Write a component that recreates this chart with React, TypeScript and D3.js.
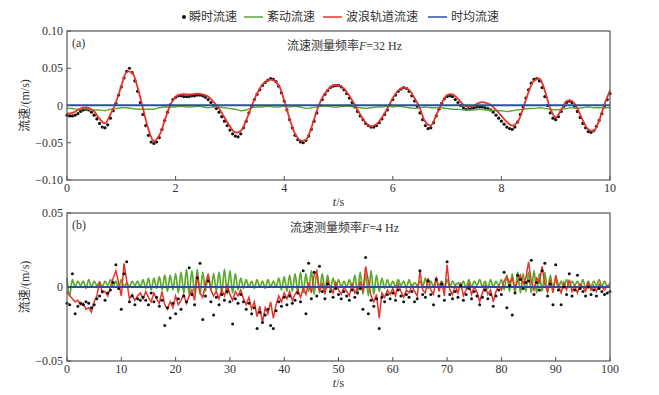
import * as d3 from "d3";

// ---- panel (a): F = 32 Hz, 0–10 s ----
const waveA = [
  -0.011, -0.010, -0.006, -0.003, -0.003, -0.008, -0.018, -0.024, -0.012, 0.004,
  0.026, 0.045, 0.044, 0.024, -0.004, -0.032, -0.048, -0.040, -0.020, 0.000,
  0.012, 0.015, 0.015, 0.015, 0.016, 0.015, 0.012, 0.005, -0.004, -0.016,
  -0.028, -0.036, -0.034, -0.020, -0.001, 0.016, 0.028, 0.034, 0.034, 0.027,
  0.007, -0.018, -0.038, -0.047, -0.046, -0.030, -0.007, 0.010, 0.021, 0.027,
  0.027, 0.023, 0.013, 0.001, -0.012, -0.023, -0.028, -0.025, -0.016, -0.004,
  0.010, 0.020, 0.024, 0.021, 0.010, -0.004, -0.022, -0.027, -0.013, 0.003,
  0.014, 0.015, 0.009, 0.001, -0.002, 0.000, 0.004, 0.004, 0.001, -0.006,
  -0.014, -0.022, -0.027, -0.022, -0.004, 0.018, 0.033, 0.036, 0.020, -0.004,
  -0.016, -0.006, 0.006, 0.006, -0.004, -0.020, -0.032, -0.034, -0.020, 0.002,
  0.020,
];

const turbA = [
  -0.004, -0.004, -0.005, -0.004, -0.005, -0.006, -0.006, -0.007, -0.005, -0.004,
  -0.003, -0.003, -0.004, -0.005, -0.005, -0.005, -0.005, -0.003, -0.002, -0.002,
  -0.002, -0.001, -0.002, -0.002, -0.001, -0.002, -0.003, -0.002, -0.002, -0.003,
  -0.004, -0.005, -0.007, -0.006, -0.003, -0.002, -0.002, -0.001, -0.002, -0.002,
  -0.001, -0.002, -0.001, -0.002, -0.004, -0.003, -0.002, -0.001, -0.001, -0.002,
  -0.002, -0.001, -0.001, -0.002, -0.003, -0.004, -0.003, -0.002, -0.002, -0.001,
  -0.002, -0.001, -0.002, -0.003, -0.004, -0.003, -0.002, -0.003, -0.003, -0.003,
  -0.004, -0.005, -0.005, -0.006, -0.006, -0.006, -0.005, -0.006, -0.006, -0.007,
  -0.007, -0.008, -0.007, -0.006, -0.005, -0.004, -0.004, -0.003, -0.004, -0.005,
  -0.006, -0.005, -0.004, -0.003, -0.004, -0.003, -0.002, -0.003, -0.003, -0.003,
  -0.003,
];

const instA = [
  -0.013, -0.014, -0.014, -0.013, -0.011, -0.008, -0.006, -0.005, -0.006, -0.009,
  -0.013, -0.018, -0.024, -0.029, -0.030, -0.026, -0.017, -0.007, 0.003, 0.014,
  0.025, 0.037, 0.046, 0.050, 0.044, 0.033, 0.019, 0.004, -0.012, -0.027,
  -0.040, -0.049, -0.051, -0.049, -0.043, -0.032, -0.020, -0.009, 0.001, 0.008,
  0.011, 0.013, 0.013, 0.012, 0.012, 0.012, 0.013, 0.013, 0.014, 0.014,
  0.013, 0.011, 0.008, 0.004, 0.000, -0.004, -0.009, -0.015, -0.021, -0.027,
  -0.033, -0.038, -0.041, -0.042, -0.038, -0.030, -0.021, -0.010, -0.001, 0.008,
  0.015, 0.021, 0.027, 0.031, 0.034, 0.036, 0.035, 0.032, 0.026, 0.017,
  0.006, -0.006, -0.019, -0.030, -0.040, -0.046, -0.049, -0.050, -0.047, -0.041,
  -0.032, -0.021, -0.010, 0.000, 0.008, 0.015, 0.020, 0.024, 0.026, 0.027,
  0.027, 0.025, 0.021, 0.016, 0.010, 0.004, -0.002, -0.008, -0.014, -0.019,
  -0.024, -0.027, -0.029, -0.029, -0.027, -0.023, -0.018, -0.012, -0.006, 0.001,
  0.008, 0.014, 0.019, 0.022, 0.024, 0.023, 0.019, 0.013, 0.006, -0.002,
  -0.010, -0.019, -0.027, -0.031, -0.030, -0.023, -0.014, -0.005, 0.003, 0.009,
  0.012, 0.013, 0.012, 0.008, 0.004, 0.000, -0.003, -0.005, -0.005, -0.004,
  -0.003, -0.002, -0.002, -0.002, -0.003, -0.004, -0.006, -0.009, -0.013, -0.017,
  -0.021, -0.025, -0.029, -0.031, -0.032, -0.029, -0.022, -0.012, -0.002, 0.010,
  0.021, 0.030, 0.035, 0.036, 0.033, 0.024, 0.012, 0.000, -0.010, -0.017,
  -0.019, -0.015, -0.008, -0.001, 0.004, 0.006, 0.004, -0.001, -0.008, -0.016,
  -0.024, -0.030, -0.035, -0.036, -0.034, -0.028, -0.020, -0.011, -0.002, 0.008,
  0.016,
];

// ---- panel (b): F = 4 Hz, 0–100 s ----
const waveB = [
  -0.003, -0.006, -0.008, -0.010, -0.009, -0.012, -0.011, -0.015, -0.014, -0.017,
  -0.010, -0.006, 0.004, -0.004, -0.003, -0.006, 0.000, 0.006, 0.011, 0.003,
  -0.006, 0.016, 0.004, -0.008, -0.005, -0.009, -0.006, -0.004, -0.008, -0.003,
  -0.007, -0.010, -0.004, -0.008, -0.011, -0.003, -0.012, -0.015, -0.010, -0.014,
  -0.006, -0.012, -0.009, -0.005, -0.011, -0.006, -0.002, -0.009, 0.008, -0.004,
  -0.007, 0.002, 0.009, -0.002, -0.006, -0.003, -0.008, -0.002, -0.006, 0.001,
  -0.005, -0.009, -0.003, -0.006, -0.002, -0.008, -0.012, -0.007, -0.015, -0.010,
  -0.020, -0.013, -0.024, -0.014, -0.018, -0.010, -0.021, -0.012, -0.006, -0.010,
  -0.004, -0.008, -0.003, -0.009, -0.005, -0.002, -0.007, -0.001, -0.005, 0.003,
  -0.004, 0.008, 0.011, -0.003, 0.002, -0.005, 0.004, 0.000, -0.004, 0.003,
  -0.002, -0.005, 0.000, -0.003, -0.006, 0.002, -0.004, -0.001, 0.003, -0.003,
  0.014, 0.004, -0.006, -0.010, -0.005, -0.021, -0.004, -0.007, -0.002, -0.005,
  -0.001, -0.006, 0.002, -0.003, -0.007, -0.002, -0.004, 0.001, -0.003, -0.006,
  0.011, -0.002, -0.004, 0.006, -0.002, -0.005, 0.007, -0.003, 0.004, -0.006,
  0.015, -0.002, -0.005, 0.001, -0.004, 0.003, -0.006, -0.002, 0.002, -0.005,
  0.000, -0.003, -0.010, -0.004, 0.001, -0.005, -0.002, -0.010, -0.003, 0.001,
  -0.002, 0.004, 0.007, 0.003, 0.006, -0.001, 0.004, 0.008, 0.002, 0.006,
  0.017, 0.004, -0.002, 0.006, 0.003, 0.014, 0.002, -0.003, 0.005, -0.004,
  0.008, 0.001, -0.004, 0.003, -0.002, 0.005, -0.003, 0.001, -0.004, 0.002,
  0.000, -0.003, 0.003, -0.002, 0.001, -0.003, 0.002, 0.000, -0.002, 0.001,
  0.000,
];

const turbB = [
  0.006, -0.006, 0.005, 0.000, 0.004, 0.001, 0.004, -0.001, 0.005, 0.000,
  0.004, 0.001, 0.003, 0.000, 0.004, 0.001, 0.005, 0.000, 0.004, -0.001,
  0.005, 0.000, 0.003, 0.000, 0.004, 0.001, 0.004, 0.000, 0.005, -0.001,
  0.006, -0.002, 0.006, -0.001, 0.007, -0.002, 0.008, -0.003, 0.008, -0.002,
  0.009, -0.004, 0.010, -0.004, 0.012, -0.005, 0.011, -0.004, 0.012, -0.005,
  0.010, -0.003, 0.008, -0.002, 0.009, -0.003, 0.010, -0.004, 0.012, -0.005,
  0.011, -0.004, 0.009, -0.002, 0.006, -0.001, 0.005, 0.000, 0.004, -0.001,
  0.005, 0.000, 0.004, -0.001, 0.005, 0.000, 0.004, 0.000, 0.006, -0.002,
  0.007, -0.003, 0.008, -0.003, 0.009, -0.004, 0.010, -0.004, 0.009, -0.003,
  0.011, -0.005, 0.010, -0.004, 0.009, -0.003, 0.008, -0.002, 0.006, -0.001,
  0.005, 0.000, 0.004, 0.000, 0.005, -0.002, 0.008, -0.004, 0.010, -0.005,
  0.009, -0.006, 0.011, -0.005, 0.008, -0.003, 0.006, -0.001, 0.005, 0.000,
  0.004, 0.000, 0.005, 0.001, 0.004, -0.001, 0.005, 0.000, 0.003, 0.001,
  0.004, 0.000, 0.006, -0.001, 0.004, 0.000, 0.005, 0.001, 0.004, -0.001,
  0.005, 0.000, 0.004, 0.001, 0.003, 0.000, 0.004, -0.001, 0.005, 0.000,
  0.004, 0.001, 0.005, 0.000, 0.004, -0.001, 0.005, 0.000, 0.004, 0.001,
  0.005, -0.002, 0.008, -0.003, 0.009, -0.004, 0.010, -0.004, 0.009, -0.003,
  0.010, -0.004, 0.011, -0.004, 0.009, -0.003, 0.010, -0.004, 0.008, -0.002,
  0.006, -0.001, 0.004, 0.000, 0.005, 0.000, 0.004, 0.001, 0.004, 0.000,
  0.005, -0.001, 0.004, 0.000, 0.004, 0.001, 0.005, 0.000, 0.004, 0.000,
  0.003,
];

const instB = [
  -0.011, -0.012, 0.009, -0.018, -0.013, -0.011, -0.012, -0.010, -0.011, -0.014,
  -0.012, -0.008, -0.006, -0.003, -0.009, -0.004, -0.002, 0.003, 0.015, -0.001,
  -0.015, 0.009, 0.017, -0.010, -0.006, -0.012, -0.008, -0.009, -0.007, -0.009,
  -0.012, -0.004, -0.010, -0.007, -0.013, -0.009, -0.026, -0.014, -0.021, -0.011,
  -0.018, -0.008, -0.015, -0.006, -0.010, 0.013, -0.005, -0.012, 0.006, 0.016,
  -0.022, -0.006, 0.004, -0.010, -0.019, -0.007, -0.012, -0.005, -0.009, -0.003,
  -0.010, -0.025, -0.008, -0.011, -0.005, -0.010, -0.015, -0.011, -0.018, -0.014,
  -0.028, -0.017, -0.024, -0.019, -0.015, -0.026, -0.028, -0.016, -0.010, -0.013,
  -0.007, -0.012, -0.006, -0.011, -0.009, -0.004, -0.010, 0.011, -0.018, 0.016,
  -0.008, 0.010, -0.006, 0.014, -0.003, -0.008, 0.002, -0.003, -0.007, -0.001,
  -0.005, -0.008, -0.003, -0.006, -0.009, -0.002, -0.007, -0.004, -0.001, -0.015,
  0.020, -0.018, -0.009, -0.013, -0.008, -0.028, -0.007, -0.010, -0.005, -0.008,
  -0.004, -0.009, -0.002, -0.006, -0.010, -0.005, -0.007, -0.003, -0.010, -0.008,
  0.011, -0.005, -0.007, 0.004, -0.005, -0.012, 0.005, -0.006, 0.002, -0.009,
  0.017, -0.005, -0.008, -0.003, -0.007, 0.001, -0.009, -0.005, -0.001, -0.008,
  -0.003, -0.006, -0.012, -0.007, -0.002, -0.008, -0.005, -0.013, -0.006, -0.002,
  -0.005, 0.010, -0.014, 0.001, -0.019, -0.004, 0.008, 0.005, -0.001, 0.003,
  0.004, 0.018, -0.005, 0.003, -0.002, 0.011, 0.016, -0.006, 0.002, -0.012,
  0.015, -0.002, -0.012, 0.000, -0.005, 0.009, -0.006, -0.002, 0.008, -0.001,
  -0.003, -0.006, 0.000, -0.005, -0.002, -0.006, -0.001, -0.003, -0.005, -0.004,
  -0.003,
];

const meanA = 0.0005;
const meanB = 0;

const ticksA = [-0.1, -0.05, 0, 0.05, 0.1];
const tickLabelsA = ["\u22120.10", "\u22120.05", "0", "0.05", "0.10"];
const ticksB = [-0.05, 0, 0.05];
const tickLabelsB = ["\u22120.05", "0", "0.05"];
const xTicksA = [0, 2, 4, 6, 8, 10];
const xTicksB = [0, 10, 20, 30, 40, 50, 60, 70, 80, 90, 100];

const legendItems = [
  { label: "瞬时流速", color: "#111", kind: "dot" },
  { label: "紊动流速", color: "#5ba833", kind: "line" },
  { label: "波浪轨道流速", color: "#e8332b", kind: "line" },
  { label: "时均流速", color: "#2b4f9e", kind: "line" },
];

const GREEN = "#5ba833";
const RED = "#e8332b";
const BLUE = "#2b4f9e";
const SERIF = "'Liberation Serif', 'DejaVu Serif', serif";
const CJK = "'Noto Sans CJK SC', sans-serif";
const X0 = 67;
const X1 = 610;

type PanelProps = {
  top: number;
  bottom: number;
  tMax: number;
  dt: number;
  dtInst: number;
  yMax: number;
  yTicks: number[];
  yLabels: string[];
  xTicks: number[];
  wave: number[];
  turb: number[];
  inst: number[];
  mean: number;
  tag: string;
  freq: string;
  smooth: boolean;
};

function Panel(p: PanelProps) {
  const x = d3.scaleLinear().domain([0, p.tMax]).range([X0, X1]);
  const y = d3.scaleLinear().domain([-p.yMax, p.yMax]).range([p.bottom, p.top]);
  const line = (curve: d3.CurveFactory) =>
    d3
      .line<number>()
      .x((_, i) => x(i * p.dt))
      .y((d) => y(d))
      .curve(curve);
  const xMid = (X0 + X1) / 2;
  const dots = p.inst.map((v, i) => (
    <circle key={i} cx={x(i * p.dtInst)} cy={y(v)} r={p.smooth ? 1.6 : 1.5} fill="#111" />
  ));
  const waveCurve = p.smooth ? d3.curveCatmullRom : d3.curveLinear;
  return (
    <g>
      {p.smooth ? dots : null}
      <path
        d={line(d3.curveCatmullRom)(p.turb) ?? ""}
        fill="none"
        stroke={GREEN}
        strokeWidth={p.smooth ? 1.4 : 1.7}
      />
      <path d={line(waveCurve)(p.wave) ?? ""} fill="none" stroke={RED} strokeWidth={p.smooth ? 1.8 : 1.5} />
      <line x1={X0} x2={X1} y1={y(p.mean)} y2={y(p.mean)} stroke={BLUE} strokeWidth={2} />
      {p.smooth ? null : dots}
      <rect x={X0} y={p.top} width={X1 - X0} height={p.bottom - p.top} fill="none" stroke="#555" strokeWidth={1.2} />
      {p.yTicks.map((t, i) => (
        <g key={t}>
          <line x1={X0} x2={X0 + 4} y1={y(t)} y2={y(t)} stroke="#555" />
          <text x={X0 - 4} y={y(t)} dy="0.35em" textAnchor="end" fontFamily={SERIF} fontSize={12} fill="#333">
            {p.yLabels[i]}
          </text>
        </g>
      ))}
      {p.xTicks.map((t) => (
        <g key={t}>
          <line x1={x(t)} x2={x(t)} y1={p.bottom} y2={p.bottom - 4} stroke="#555" />
          <text x={x(t)} y={p.bottom + 12} textAnchor="middle" fontFamily={SERIF} fontSize={12} fill="#333">
            {t}
          </text>
        </g>
      ))}
      <text x={xMid} y={p.bottom + 26} textAnchor="middle" fontFamily={SERIF} fontSize={12} fill="#333">
        <tspan fontStyle="italic">t</tspan>/s
      </text>
      <text
        transform={`translate(29,${(p.top + p.bottom) / 2}) rotate(-90)`}
        textAnchor="middle"
        fontSize={12}
        fill="#333"
      >
        <tspan fontFamily={CJK}>流速</tspan>
        <tspan fontFamily={SERIF}>/(m/s)</tspan>
      </text>
      <text x={X0 + 5} y={p.top + 16} fontFamily={SERIF} fontSize={12} fill="#333">
        {p.tag}
      </text>
      <text x={xMid + 6} y={p.top + 19} textAnchor="middle" fontSize={12} fill="#333">
        <tspan fontFamily={CJK}>流速测量频率</tspan>
        <tspan fontFamily={SERIF} fontStyle="italic">F</tspan>
        <tspan fontFamily={SERIF}>={p.freq} Hz</tspan>
      </text>
    </g>
  );
}

function Legend() {
  const starts = [181, 244, 323, 428];
  return (
    <g>
      {legendItems.map((it, i) => {
        const x0 = starts[i];
        return (
          <g key={it.label}>
            {it.kind === "dot" ? (
              <circle cx={x0 + 3} cy={17} r={2} fill={it.color} />
            ) : (
              <line x1={x0} x2={x0 + 19} y1={17} y2={17} stroke={it.color} strokeWidth={1.5} />
            )}
            <text x={it.kind === "dot" ? x0 + 8 : x0 + 23} y={17} dy="0.36em" fontFamily={CJK} fontSize={12} fill="#333">
              {it.label}
            </text>
          </g>
        );
      })}
    </g>
  );
}

export default function App() {
  return (
    <svg
      width={659}
      height={395}
      style={{ position: "absolute", left: 0, top: 0, background: "#fff" }}
    >
      <Legend />
      <Panel
        top={31}
        bottom={180}
        tMax={10}
        dt={0.1}
        dtInst={0.05}
        yMax={0.1}
        yTicks={ticksA}
        yLabels={tickLabelsA}
        xTicks={xTicksA}
        wave={waveA}
        turb={turbA}
        inst={instA}
        mean={meanA}
        tag="(a)"
        freq="32"
        smooth={true}
      />
      <Panel
        top={213}
        bottom={361}
        tMax={100}
        dt={0.5}
        dtInst={0.5}
        yMax={0.05}
        yTicks={ticksB}
        yLabels={tickLabelsB}
        xTicks={xTicksB}
        wave={waveB}
        turb={turbB}
        inst={instB}
        mean={meanB}
        tag="(b)"
        freq="4"
        smooth={false}
      />
    </svg>
  );
}
